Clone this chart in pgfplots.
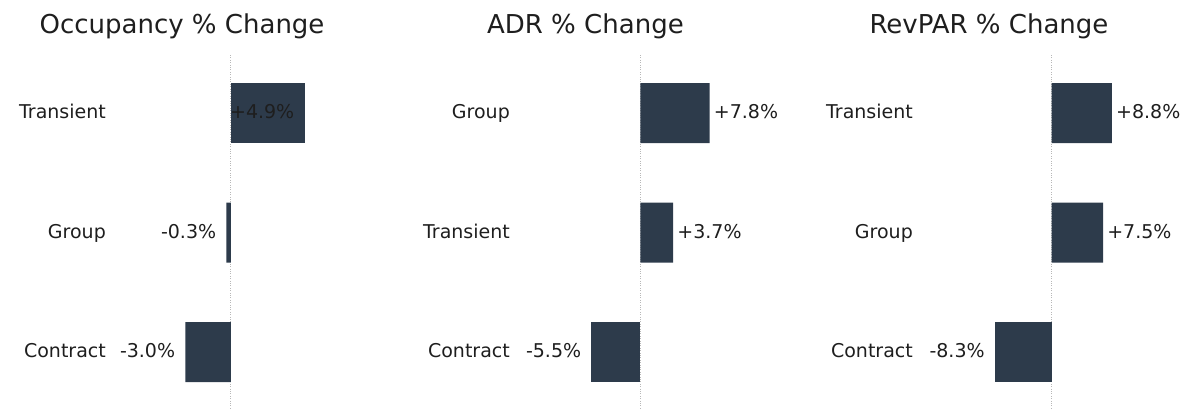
\documentclass[border=0pt]{standalone}
\usepackage{fontspec}
\setmainfont{DejaVu Sans}
\usepackage{pgfplots}
\pgfplotsset{compat=1.18}

\definecolor{barcol}{HTML}{2D3B4B}
\definecolor{txt}{HTML}{1E1E1E}

\pgfplotsset{
  panel/.style={
    xbar, bar width=60pt, bar shift=0pt,
    scale only axis, height=354.9pt,
    ymin=-0.47, ymax=2.5,
    ytick={0,1,2},
    axis line style={draw=none},
    major tick length=0pt, tick style={draw=none},
    xtick={0}, xticklabel=\empty,
    xmajorgrids, major grid style={dotted, color=black!28, line width=1pt},
    yticklabel style={font=\fontsize{19}{22}\selectfont, text=txt,
      inner sep=0pt, anchor=east, text height=1.1em, text depth=0pt},
    every axis title/.style={font=\fontsize{26}{31}\selectfont, text=txt,
      anchor=base, yshift=20pt},
    point meta=explicit symbolic,
    clip=false,
    anchor=south west,
  },
  pos/.style={fill=barcol, draw=none, nodes near coords,
    every node near coord/.append style={font=\fontsize{19}{22}\selectfont, text=txt,
      anchor=west, inner sep=0pt, xshift=4pt, text height=1.1em, text depth=0pt}},
  neg/.style={fill=barcol, draw=none, nodes near coords,
    every node near coord/.append style={font=\fontsize{19}{22}\selectfont, text=txt,
      anchor=east, inner sep=0pt, xshift=-10pt, text height=1.1em, text depth=0pt}},
}

\begin{document}
\begin{tikzpicture}
\useasboundingbox (0,0) rectangle (1183pt,409pt);

% Occupancy
\begin{axis}[panel, at={(106pt,0.8pt)},
  width=276.9pt, xmin=-8.22, xmax=10,
  yticklabels={Contract,Group,Transient},
  title={Occupancy \% Change}, title style={at={(0.2745,1)}}]
\addplot[pos, every node near coord/.append style={xshift=-79.5pt}]
  coordinates {(4.9,2) [+4.9\%]};
\addplot[neg] coordinates {(-0.3,1) [-0.3\%] (-3.0,0) [-3.0\%]};
\end{axis}

% ADR
\begin{axis}[panel, at={(510pt,0.8pt)},
  width=263.8pt, xmin=-14.64, xmax=15,
  yticklabels={Contract,Transient,Group},
  title={ADR \% Change}, title style={at={(0.286,1)}}]
\addplot[pos] coordinates {(7.8,2) [+7.8\%] (3.7,1) [+3.7\%]};
\addplot[neg] coordinates {(-5.5,0) [-5.5\%]};
\end{axis}

% RevPAR
\begin{axis}[panel, at={(913pt,0.8pt)},
  width=262pt, xmin=-20.25, xmax=18,
  yticklabels={Contract,Group,Transient},
  title={RevPAR \% Change}, title style={at={(0.290,1)}}]
\addplot[pos] coordinates {(8.8,2) [+8.8\%] (7.5,1) [+7.5\%]};
\addplot[neg] coordinates {(-8.3,0) [-8.3\%]};
\end{axis}
\end{tikzpicture}
\end{document}
